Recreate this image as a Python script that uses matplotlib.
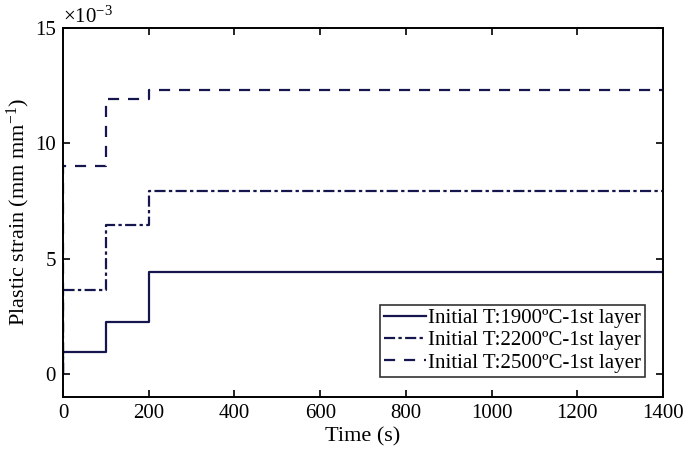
import matplotlib
matplotlib.use("Agg")
import matplotlib.pyplot as plt

plt.rcParams['font.family'] = ['Liberation Serif', 'DejaVu Serif']
plt.rcParams['mathtext.fontset'] = 'custom'
plt.rcParams['mathtext.rm'] = 'Liberation Serif'
plt.rcParams['mathtext.it'] = 'Liberation Serif:italic'

time = [0, 0, 100, 100, 200, 200, 1400]
s1900 = [0, 0.95, 0.95, 2.27, 2.27, 4.43, 4.43]
s2200 = [0, 3.65, 3.65, 6.47, 6.47, 7.95, 7.95]
s2500 = [0, 9.0, 9.0, 11.9, 11.9, 12.32, 12.32]
labels = ['Initial T:1900ºC-1st layer', 'Initial T:2200ºC-1st layer', 'Initial T:2500ºC-1st layer']
xticks = [0, 200, 400, 600, 800, 1000, 1200, 1400]
yticks = [0, 5, 10, 15]

color = '#16164e'
fig = plt.figure(figsize=(6.85, 4.55), dpi=100)
ax = fig.add_axes([0.092, 0.1275, 0.876, 0.811])
ax.plot(time, s1900, color=color, lw=1.6, ls='-', label=labels[0])
ax.plot(time, s2200, color=color, lw=1.6, ls=(0, (5, 1.5, 1.5, 1.5)), label=labels[1])
ax.plot(time, s2500, color=color, lw=1.6, ls=(0, (5, 4)), label=labels[2])

ax.set_xlim(0, 1400)
ax.set_ylim(-1, 15)
ax.set_xticks(xticks)
ax.set_yticks(yticks)
ax.tick_params(direction='in', top=True, right=True, labelsize=15, width=1.2, length=5, pad=5)
for sp in ax.spines.values():
    sp.set_linewidth(1.4)
ax.set_xlabel('Time (s)', fontsize=16, labelpad=3)
ax.set_ylabel('Plastic strain (mm mm$^{-1}$)', fontsize=16, labelpad=2)
ax.text(0.0, 1.0, r'$\times10^{-3}$', transform=ax.transAxes, fontsize=15, ha='left', va='bottom')

leg = ax.legend(loc='lower right', bbox_to_anchor=(0.97, 0.055), fontsize=15, frameon=True,
                fancybox=False, handlelength=2.0, handletextpad=0.1, borderpad=0.2,
                labelspacing=0.12, borderaxespad=0)
leg.get_frame().set_edgecolor('black')
leg.get_frame().set_linewidth(1.2)

fig.savefig('out.png', dpi=100)
